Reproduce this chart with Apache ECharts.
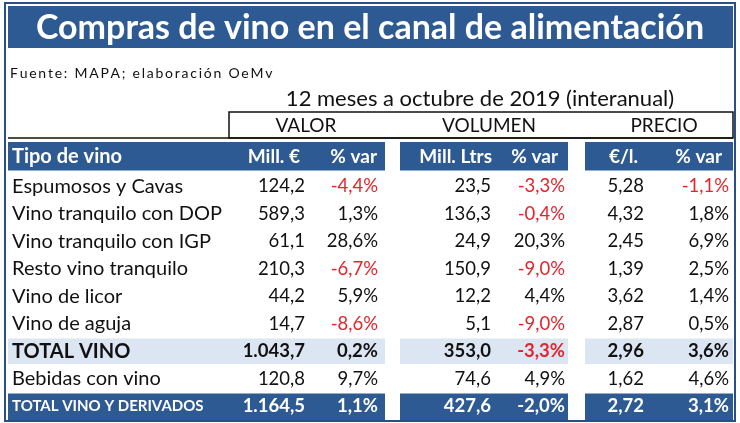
<!DOCTYPE html>
<html><head><meta charset="utf-8">
<script src="https://cdn.jsdelivr.net/npm/echarts@6/dist/echarts.min.js"></script>
<style>html,body{margin:0;padding:0;background:#fff}#c{width:740px;height:423px}</style>
</head><body><div id="c"></div>
<script>
const categories = ['Espumosos y Cavas', 'Vino tranquilo con DOP', 'Vino tranquilo con IGP', 'Resto vino tranquilo', 'Vino de licor', 'Vino de aguja', 'TOTAL VINO', 'Bebidas con vino', 'TOTAL VINO Y DERIVADOS'];
const valor = [124.2, 589.3, 61.1, 210.3, 44.2, 14.7, 1043.7, 120.8, 1164.5];
const valorVar = [-4.4, 1.3, 28.6, -6.7, 5.9, -8.6, 0.2, 9.7, 1.1];
const volumen = [23.5, 136.3, 24.9, 150.9, 12.2, 5.1, 353.0, 74.6, 427.6];
const volumenVar = [-3.3, -0.4, 20.3, -9.0, 4.4, -9.0, -3.3, 4.9, -2.0];
const precio = [5.28, 4.32, 2.45, 1.39, 3.62, 2.87, 2.96, 1.62, 2.72];
const precioVar = [-1.1, 1.8, 6.9, 2.5, 1.4, 0.5, 3.6, 4.6, 3.1];
const headers = ['Tipo de vino', 'Mill. €', '% var', 'Mill. Ltrs', '% var', '€/l.', '% var'];
const groups = ['VALOR', 'VOLUMEN', 'PRECIO'];
const titleText = 'Compras de vino en el canal de alimentación';
const sourceText = 'Fuente: MAPA; elaboración OeMv';
const periodText = '12 meses a octubre de 2019 (interanual)';

const BLUE = '#2e5a94', LIGHT = '#dce6f2', RED = '#e3262d';
const FONT = 'Lato';
const bands = [[8, 385], [400, 568], [585, 733]];
const colRight = [305, 378, 491, 565, 644, 729];
const headRight = [300, 377, 492, 558, 638, 722];
const groupCenter = [306, 489, 664];

function fmt(v, dec) {
  const s = Math.abs(v).toFixed(dec).split('.');
  const int = s[0].replace(/\B(?=(\d{3})+(?!\d))/g, '.');
  return (v < 0 ? '-' : '') + int + (dec ? ',' + s[1] : '');
}
const rowsY = ['__header__'].concat(categories);
const chart = echarts.init(document.getElementById('c'), null, {renderer: 'canvas'});

function renderRow(params, api) {
  const r = api.value(0);
  const y = api.coord([0, r])[1];
  const h = api.size([0, 1])[1];
  const children = [];
  const isHeader = r === 0;
  const idx = r - 1;
  const name = rowsY[r];
  const isTotal = name === 'TOTAL VINO';
  const isGrand = name === 'TOTAL VINO Y DERIVADOS';
  if (isHeader || isTotal || isGrand) {
    const fill = isTotal ? LIGHT : BLUE;
    const top = isHeader ? y - h / 2 - 3 : y - h / 2 + 1;
    const hh = isHeader ? h + 1 : (isGrand ? h - 1 : h - 2);
    bands.forEach(b => children.push({type: 'rect', shape: {x: b[0], y: top, width: b[1] - b[0], height: hh}, style: {fill: fill}}));
  }
  const txt = (x, s, align, color, size, weight, dy) => children.push({
    type: 'text', x: x, y: y + (dy || 0),
    style: {text: s, textAlign: align, textVerticalAlign: 'middle', fill: color, font: (weight || 'normal') + ' ' + size + 'px ' + FONT}
  });
  if (isHeader) {
    txt(12, headers[0], 'left', '#fff', 20, 'bold', -2);
    for (let i = 1; i < headers.length; i++) txt(headRight[i - 1], headers[i], 'right', '#fff', 19, 'bold', -2);
    return {type: 'group', children: children};
  }
  const bold = isTotal || isGrand ? 'bold' : 'normal';
  const base = isGrand ? '#fff' : '#111';
  txt(12, name, 'left', base, isGrand ? 15 : 20, bold);
  const vals = [fmt(valor[idx], 1), fmt(valorVar[idx], 1) + '%', fmt(volumen[idx], 1), fmt(volumenVar[idx], 1) + '%', fmt(precio[idx], 2), fmt(precioVar[idx], 1) + '%'];
  const raw = [valor[idx], valorVar[idx], volumen[idx], volumenVar[idx], precio[idx], precioVar[idx]];
  vals.forEach((s, i) => {
    const neg = (i % 2 === 1) && raw[i] < 0 && !isGrand;
    txt(colRight[i], s, 'right', neg ? RED : base, 18.5, bold);
  });
  return {type: 'group', children: children};
}

const option = {
  animation: false,
  backgroundColor: '#fff',
  grid: {left: 0, right: 0, top: 145, bottom: 3},
  xAxis: {type: 'value', min: 0, max: 740, show: false},
  yAxis: {type: 'category', data: rowsY, inverse: true, show: false},
  graphic: [
    {type: 'rect', shape: {x: 5, y: 3, width: 730, height: 418}, style: {fill: 'none', stroke: '#2a4f86', lineWidth: 2}, z: 10},
    {type: 'rect', shape: {x: 8, y: 6, width: 725, height: 42}, style: {fill: BLUE}},
    {type: 'text', x: 370, y: 28, style: {text: titleText, textAlign: 'center', textVerticalAlign: 'middle', fill: '#fff', font: 'bold 34px ' + FONT}},
    {type: 'text', x: 10, y: 73, style: {text: sourceText.split('').join('\u2009'), textAlign: 'left', textVerticalAlign: 'middle', fill: '#111', font: 'normal 14px ' + FONT}},
    {type: 'text', x: 480, y: 99, style: {text: periodText, textAlign: 'center', textVerticalAlign: 'middle', fill: '#111', font: 'normal 22px ' + FONT}},
    {type: 'rect', shape: {x: 229, y: 112, width: 504, height: 26}, style: {fill: 'none', stroke: '#111', lineWidth: 1.5}},
    {type: 'line', shape: {x1: 8, y1: 138, x2: 733, y2: 138}, style: {stroke: '#111', lineWidth: 1.5}},
    {type: 'text', x: groupCenter[0], y: 126, style: {text: groups[0], textAlign: 'center', textVerticalAlign: 'middle', fill: '#111', font: 'normal 19px ' + FONT}},
    {type: 'text', x: groupCenter[1], y: 126, style: {text: groups[1], textAlign: 'center', textVerticalAlign: 'middle', fill: '#111', font: 'normal 19px ' + FONT}},
    {type: 'text', x: groupCenter[2], y: 126, style: {text: groups[2], textAlign: 'center', textVerticalAlign: 'middle', fill: '#111', font: 'normal 19px ' + FONT}}
  ],
  series: [{
    type: 'custom',
    coordinateSystem: 'cartesian2d',
    renderItem: renderRow,
    encode: {y: 0},
    data: rowsY.map((_, i) => [i])
  }]
};
chart.setOption(option);
</script></body></html>
